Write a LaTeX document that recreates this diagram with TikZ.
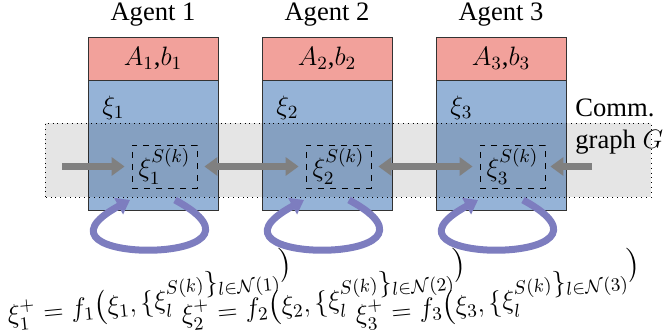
\RequirePackage{fix-cm}
\documentclass[tikz,border=0pt]{standalone}
\usepackage{amsmath}
\usepackage{fontspec}
\setmainfont{Liberation Serif}
\usetikzlibrary{positioning,arrows.meta}
\definecolor{datared}{RGB}{242,161,155}
\definecolor{stateblue}{RGB}{149,179,215}
\definecolor{loopviolet}{RGB}{125,125,191}
\tikzstyle{agentdata}=[rectangle,draw=black!80,fill=datared,minimum width=65pt,minimum height=21.5pt,inner sep=0pt,outer sep=0pt]
\tikzstyle{agentstate}=[rectangle,draw=black!80,fill=stateblue,minimum width=65pt,minimum height=65pt,inner sep=0pt,outer sep=0pt]
\tikzstyle{shared}=[rectangle,draw,dashed,minimum width=32.5pt,minimum height=21.5pt,inner sep=0pt]
\tikzstyle{comm}=[draw=gray,line width=3.5pt,-{Triangle[length=6.5pt,width=9pt]}]
\tikzstyle{commboth}=[comm,{Triangle[length=6.5pt,width=9pt]}-{Triangle[length=6.5pt,width=9pt]}]
\tikzstyle{update}=[draw=loopviolet,line width=3.5pt,-{Triangle[length=6.5pt,width=9pt]}]
\tikzstyle{band}=[draw,dotted,fill=black,fill opacity=0.1]
\tikzstyle{rule}=[anchor=base west,inner sep=0pt,rotate=5.5]

\begin{document}
\begin{tikzpicture}[x=0.5pt,y=0.5pt,font=\fontsize{13.3}{16}\selectfont]
    \useasboundingbox (0,0) rectangle (663,331);
    \node[agentdata] (D1) at (153,272.5) {$A_1$,$b_1$};
    \node[agentdata,right=22pt of D1] (D2) {$A_2$,$b_2$};
    \node[agentdata,right=22pt of D2] (D3) {$A_3$,$b_3$};
    \foreach \i in {1,2,3} {
        \node[agentstate,below=0pt of D\i] (S\i) {};
        \node[above=2pt of D\i] (T\i) {Agent \i};
        \node[anchor=west,inner sep=0pt] (L\i) at ([xshift=7pt,yshift=-14pt]S\i.north west) {$\xi_\i$};
    }
    % communication graph
    \draw[band] (45,134) rectangle (651,208);
    \node[anchor=west,align=left,inner sep=0pt] (C) at (575,204.5) {Comm.\\graph $G$};
    \foreach \i in {1,2,3} {
        \node[shared] (X\i) at ([xshift=5.75pt,yshift=-10.75pt]S\i.center) {$\xi_\i^{S(k)}$};
        \coordinate (out\i) at ([xshift=11pt,yshift=5pt]S\i.south);
        \coordinate (in\i) at ([xshift=-11.5pt,yshift=5pt]S\i.south);
        \draw[update] (out\i) .. controls +(122,-66) and +(-122,-66) .. (in\i);
        \node[rule] (E\i) at ([xshift=-72.5pt,yshift=-57pt]S\i.south)
            {$\xi_\i^+ = f_\i\big(\xi_\i,\{\xi_l^{S(k)}\raisebox{6.5pt}{$\}_{l\in\mathcal{N}(\i)}$}\raisebox{13pt}{$\big)$}$};
    }
    \coordinate (feedL) at (62,164.5);
    \coordinate (feedR) at (592,164.5);
    \draw[comm,shorten >=3.5pt] (feedL) -- (X1);
    \draw[commboth,shorten <=3.5pt,shorten >=3.5pt] (X1) -- (X2);
    \draw[commboth,shorten <=3.5pt,shorten >=3.5pt] (X2) -- (X3);
    \draw[comm,shorten >=2.5pt] (feedR) -- (X3);
\end{tikzpicture}
\end{document}
